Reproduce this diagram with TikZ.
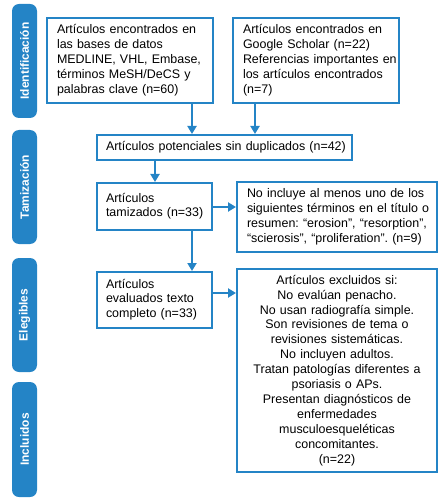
\documentclass[tikz,border=0pt]{standalone}
\usepackage{fontspec}
\setmainfont{Liberation Sans}
\usetikzlibrary{arrows.meta}
\definecolor{pblue}{HTML}{2484C6}
\newcommand{\padtext}[2]{\hspace*{#1}\begin{tabular}{@{}l@{}}#2\end{tabular}}
\tikzset{
  box/.style={draw=pblue, line width=2bp, fill=white, inner xsep=2bp, inner ysep=0bp, font=\fontsize{12.5}{15}\selectfont\frenchspacing, align=left, anchor=center},
  cbox/.style={box, align=center},
  side/.style={fill=pblue, rounded corners=7bp, rotate=90, minimum height=25bp, text=white, font=\fontsize{12}{14}\selectfont\bfseries, inner sep=0pt},
  arr/.style={draw=pblue, line width=2bp, -{Triangle[length=8bp,width=9bp]}}
}
\begin{document}
\begin{tikzpicture}[x=1bp,y=-1bp]
\useasboundingbox (0,0) rectangle (443,500);
% side labels
\node[side, minimum width=114bp] (sid) at (24.5,61) {Identificación};
\node[side, minimum width=114bp] (sta) at (24.5,187) {Tamización};
\node[side, minimum width=114bp] (sel) at (24.5,315) {Elegibles};
\node[side, minimum width=115bp] (sin) at (24.5,439.5) {Incluidos};
% boxes
\node[box, minimum width=166bp, minimum height=85bp, text width=162bp] (b1) at (130,60.5)
 {\padtext{8bp}{Artículos encontrados en\\las bases de datos\\MEDLINE, VHL, Embase,\\términos MeSH/DeCS y\\palabras clave (n=60)}};
\node[box, minimum width=166bp, minimum height=85bp, text width=162bp] (b2) at (316,60.5)
 {\padtext{8bp}{Artículos encontrados en\\Google Scholar (n=22)\\Referencias importantes en\\los artículos encontrados\\(n=7)}};
\node[box, minimum width=255bp, minimum height=25bp, text width=251bp] (b3) at (224.5,147.5)
 {\padtext{7bp}{Artículos potenciales sin duplicados (n=42)}};
\node[box, minimum width=115bp, minimum height=47bp, text width=111bp] (b4) at (154.5,206.5)
 {\padtext{7bp}{Artículos\\tamizados (n=33)}};
\node[box, minimum width=200bp, minimum height=70bp, text width=196bp] (b5) at (337,217)
 {\padtext{8bp}{No incluye al menos uno de los\\siguientes términos en el título o\\resumen: “erosion”, “resorption”,\\“scierosis”, “proliferation”. (n=9)}};
\node[box, minimum width=115bp, minimum height=56bp, text width=111bp] (b6) at (154.5,300)
 {\padtext{7bp}{Artículos\\evaluados texto\\completo (n=33)}};
\node[cbox, minimum width=200bp, minimum height=203bp, text width=196bp] (b7) at (337,370.5)
 {Artículos excluidos si:\\No evalúan penacho.\\No usan radiografía simple.\\Son revisiones de tema o\\revisiones sistemáticas.\\No incluyen adultos.\\Tratan patologías diferentes a\\psoriasis o APs.\\Presentan diagnósticos de\\enfermedades\\musculoesqueléticas\\concomitantes.\\(n=22)};
% arrow columns
\coordinate (c1) at (192,0);
\coordinate (c2) at (255,0);
\coordinate (c3) at (155,0);
\coordinate (r1) at (0,207);
\coordinate (r2) at (0,293);
\draw[arr] (b1.south -| c1) -- (b3.north -| c1);
\draw[arr] (b2.south -| c2) -- (b3.north -| c2);
\draw[arr] (b3.south -| c3) -- (b4.north -| c3);
\draw[arr] (b4.south -| c1) -- (b6.north -| c1);
\draw[arr] (b4.east |- r1) -- (b5.west |- r1);
\draw[arr] (b6.east |- r2) -- (b7.west |- r2);
\end{tikzpicture}
\end{document}
